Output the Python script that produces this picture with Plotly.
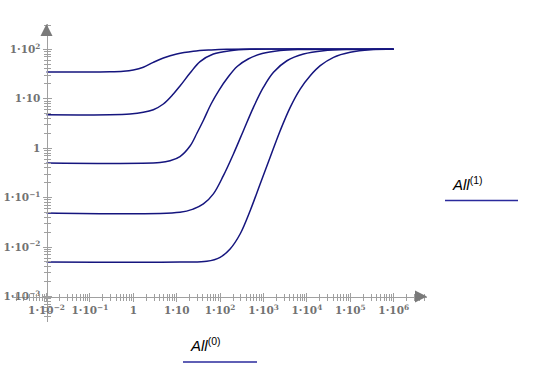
import plotly.graph_objects as go

# ---------------- data ----------------
c1_x = [0.01, 0.29, 0.59, 1.0, 1.70, 2.89, 4.92, 10.0, 24.2, 58.7, 143, 1e6]
c1_y = [34.7, 35.0, 35.9, 38.1, 43.3, 54.6, 66.7, 80.4, 91.2, 96.8, 100, 100]

c2_x = [0.01, 0.29, 0.84, 1.70, 2.89, 4.92, 8.37, 11.9, 20.3, 34.5, 70.0, 170, 490, 1e6]
c2_y = [4.75, 4.75, 4.92, 5.32, 6.01, 7.83, 12.5, 18.1, 33.1, 56.5, 80.4, 93.8, 100, 100]

c3_x = [0.01, 4.13, 7.03, 11.9, 20.3, 29.4, 41.6, 61.9, 94.8, 153, 247, 443, 931, 2421, 7000, 1e6]
c3_y = [0.502, 0.514, 0.558, 0.679, 1.107, 2.03, 3.72, 7.83, 15.0, 27.5, 44.9, 63.7, 82.2, 94.6, 99.1, 100]

c4_x = [0.01, 11.9, 24.2, 41.2, 70.0, 119, 203, 344, 586, 998, 1698, 3459, 8356, 24155, 99540, 1e6]
c4_y = [0.049, 0.0506, 0.0589, 0.0745, 0.119, 0.278, 0.764, 2.26, 6.71, 17.1, 34.3, 58.7, 80.4, 93.8, 99.1, 100]

c5_x = [0.01, 11.9, 49.3, 100, 170, 289, 492, 837, 1422, 2421, 4121, 7000, 11912, 20277,
        41115, 99540, 288403, 1e6]
c5_y = [0.005, 0.005, 0.00516, 0.00622, 0.00916, 0.0184, 0.0545, 0.189, 0.655, 2.26, 6.71,
        15.7, 29.2, 46.6, 68.9, 86.9, 98.2, 100]

x_ticks = [1e-2, 1e-1, 1, 10, 1e2, 1e3, 1e4, 1e5, 1e6]
x_labels = ["1·10<sup>−2</sup>", "1·10<sup>−1</sup>", "1", "1·10", "1·10<sup>2</sup>",
            "1·10<sup>3</sup>", "1·10<sup>4</sup>", "1·10<sup>5</sup>", "1·10<sup>6</sup>"]
y_ticks = [1e-3, 1e-2, 1e-1, 1, 10, 1e2]
y_labels = ["1·10<sup>−3</sup>", "1·10<sup>−2</sup>", "1·10<sup>−1</sup>", "1", "1·10", "1·10<sup>2</sup>"]

x_label = "<i>All</i><sup>(0)</sup>"
y_label = "<i>All</i><sup>(1)</sup>"

# ---------------- layout geometry ----------------
W, H = 536, 371
L, R, T, B = 12, 427, 24, 322
XR = [-2.795, 6.767]
YR = [-3.515, 2.512]
x_pos = (-3 - YR[0]) / (YR[1] - YR[0])   # x-axis sits at y = 1e-3
y_pos = (-2 - XR[0]) / (XR[1] - XR[0])   # y-axis sits at x = 1e-2

def minor_vals(lo, hi):
    vals = []
    for e in range(lo, hi):
        for m in range(2, 10):
            vals.append(m * 10.0 ** e)
    return vals

x_minor = minor_vals(-3, 7)
y_minor = minor_vals(-4, 3)

def px(xp):
    return (xp - L) / (R - L)

def py(yp):
    return (B - yp) / (B - T)

curve_color = "#15157e"
axis_color = "#a0a0a0"
tick_font = dict(family="DejaVu Serif", size=10.5, color="#727272", weight="bold")

fig = go.Figure()
for xs, ys in [(c1_x, c1_y), (c2_x, c2_y), (c3_x, c3_y), (c4_x, c4_y), (c5_x, c5_y)]:
    fig.add_trace(go.Scatter(x=xs, y=ys, mode="lines",
                             line=dict(color=curve_color, width=1.5, shape="spline", smoothing=1.0),
                             showlegend=False, hoverinfo="skip"))
# empty trace so the overlay axes (inner tick halves) are drawn
fig.add_trace(go.Scatter(x=[], y=[], xaxis="x2", yaxis="y2", showlegend=False))

common_x = dict(type="log", range=XR, anchor="free", position=x_pos, showgrid=False, automargin=False,
                zeroline=False, tickvals=x_ticks, tickcolor=axis_color, tickwidth=1)
common_y = dict(type="log", range=YR, anchor="free", position=y_pos, showgrid=False, automargin=False,
                zeroline=False, tickvals=y_ticks, tickcolor=axis_color, tickwidth=1)

fig.update_layout(
    width=W, height=H,
    margin=dict(l=L, r=W - R, t=T, b=H - B, pad=0, autoexpand=False),
    paper_bgcolor="white", plot_bgcolor="white",
    xaxis=dict(**common_x, ticktext=x_labels, ticks="outside", ticklen=4,
               showline=True, linecolor=axis_color, linewidth=1, tickfont=tick_font,
               minor=dict(tickvals=x_minor, ticks="outside", ticklen=3, tickcolor=axis_color)),
    yaxis=dict(**common_y, ticktext=y_labels, ticks="outside", ticklen=4,
               showline=True, linecolor=axis_color, linewidth=1, tickfont=tick_font,
               minor=dict(tickvals=y_minor, ticks="outside", ticklen=3, tickcolor=axis_color)),
    xaxis2=dict(**common_x, overlaying="x", ticks="inside", ticklen=4, showticklabels=False,
                showline=False,
                minor=dict(tickvals=x_minor, ticks="inside", ticklen=3, tickcolor=axis_color)),
    yaxis2=dict(**common_y, overlaying="y", ticks="inside", ticklen=4, showticklabels=False,
                showline=False,
                minor=dict(tickvals=y_minor, ticks="inside", ticklen=3, tickcolor=axis_color)),
)

# axis arrowheads
fig.add_annotation(xref="paper", yref="paper", x=1, y=x_pos, ax=-10, ay=0, text="",
                   showarrow=True, arrowhead=2, arrowsize=2.4, arrowwidth=1, arrowcolor="#7a7a7a")
fig.add_annotation(xref="paper", yref="paper", x=y_pos, y=1, ax=0, ay=10, text="",
                   showarrow=True, arrowhead=2, arrowsize=2.4, arrowwidth=1, arrowcolor="#7a7a7a")

# axis titles (Mathcad style, with trace line under them)
label_font = dict(family="Liberation Sans", size=15, color="black")
fig.add_annotation(xref="paper", yref="paper", x=px(188), y=py(356), xanchor="left", yanchor="bottom",
                   text=x_label, showarrow=False, font=label_font)
fig.add_annotation(xref="paper", yref="paper", x=px(450), y=py(195), xanchor="left", yanchor="bottom",
                   text=y_label, showarrow=False, font=label_font)
fig.add_shape(type="line", xref="paper", yref="paper", x0=px(183), x1=px(257), y0=py(362), y1=py(362),
              line=dict(color="#2a2a9c", width=1.5))
fig.add_shape(type="line", xref="paper", yref="paper", x0=px(445), x1=px(518), y0=py(200.5), y1=py(200.5),
              line=dict(color="#2a2a9c", width=1.5))

fig.write_html("out.html", config={"displayModeBar": False},
               post_script="document.body.style.margin='0px';document.body.style.overflow='hidden';")
